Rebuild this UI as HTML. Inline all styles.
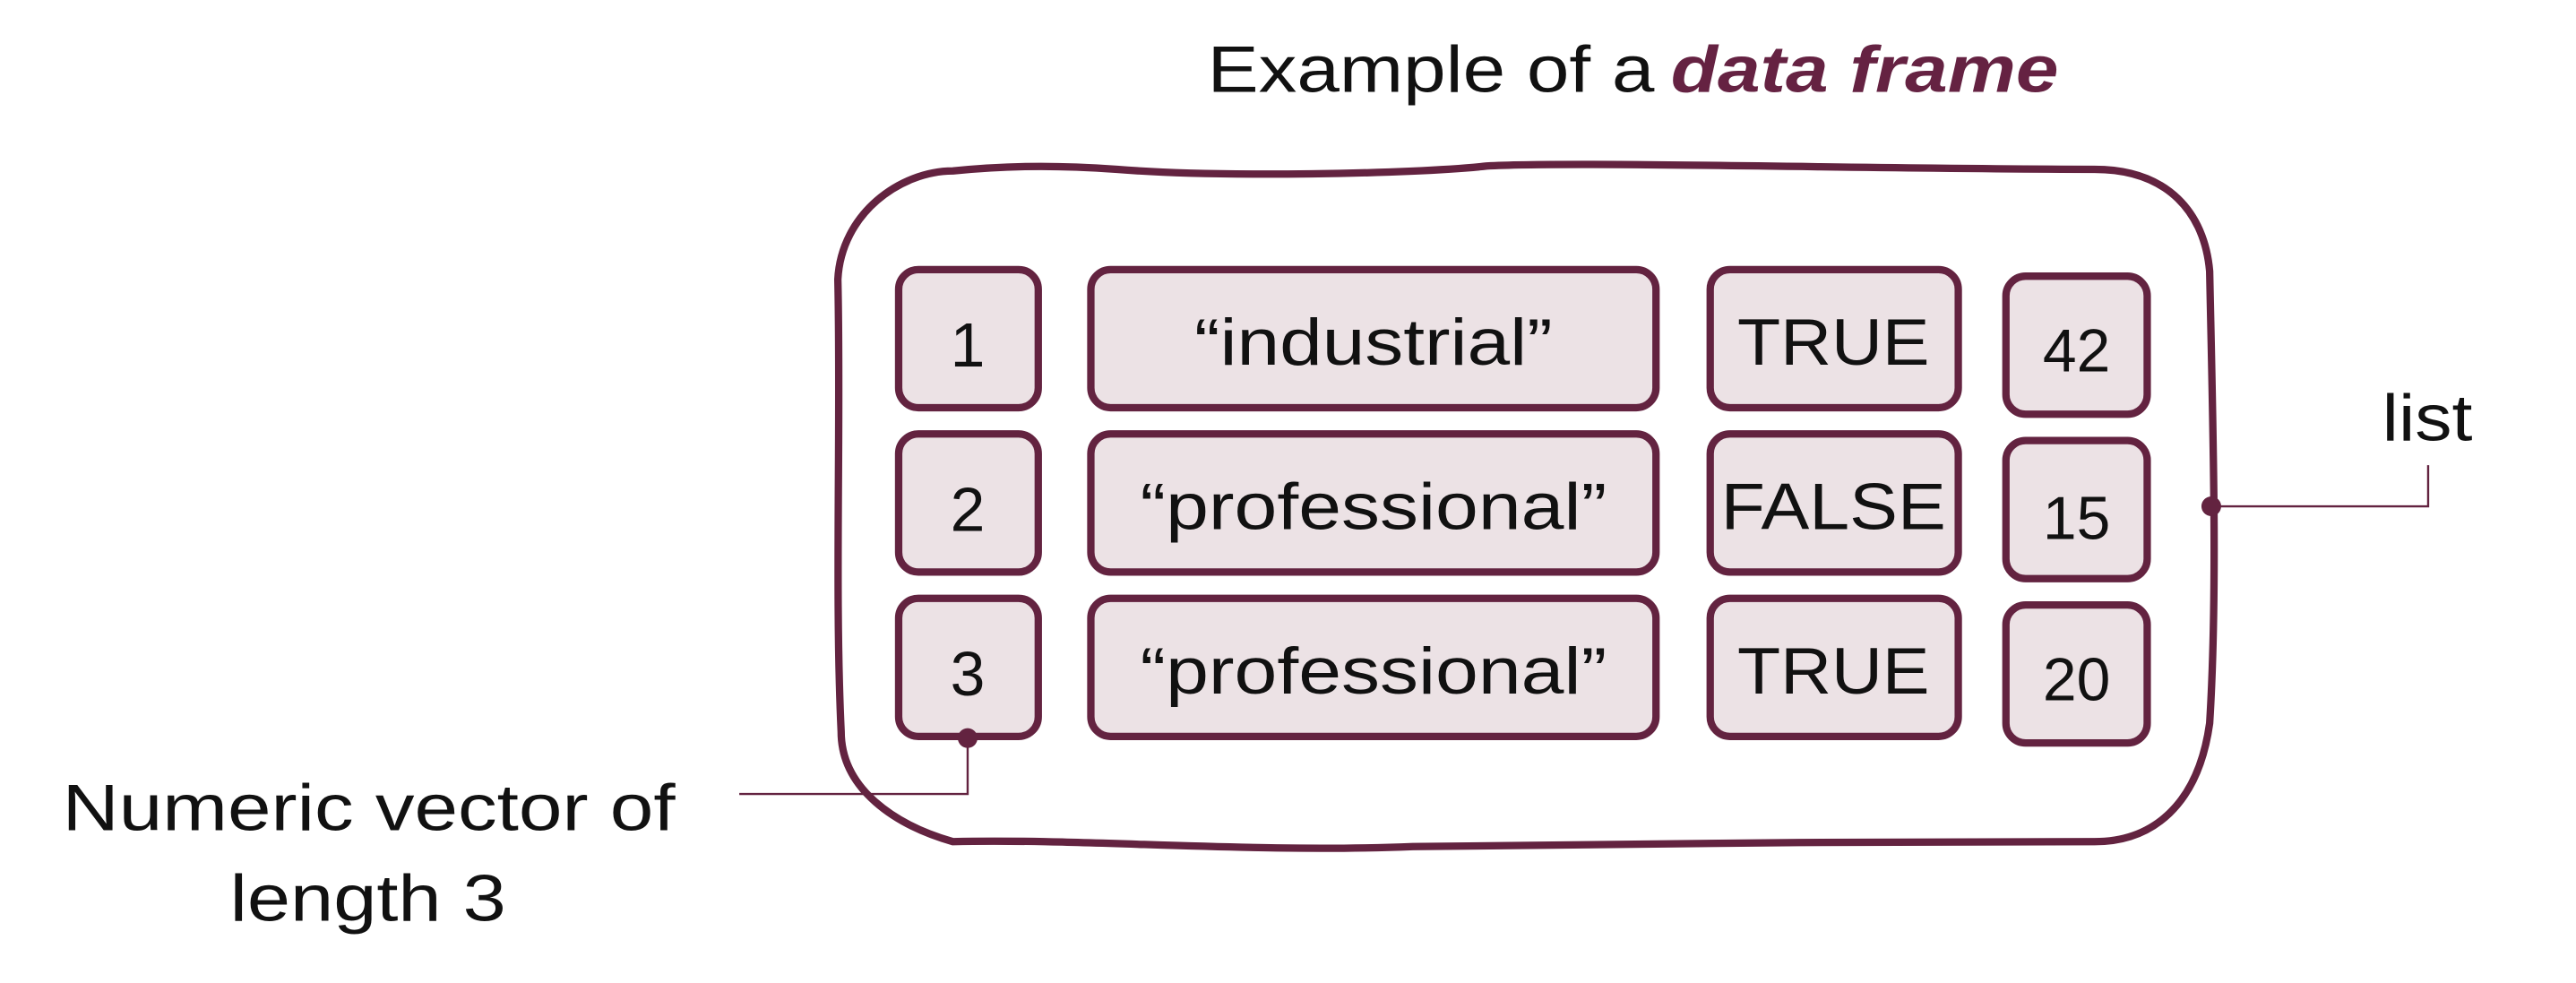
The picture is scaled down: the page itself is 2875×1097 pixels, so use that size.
<!DOCTYPE html>
<html><head><meta charset="utf-8"><style>
html,body{margin:0;padding:0;background:#fff;}
svg{display:block;}
text{font-family:"Liberation Sans",sans-serif;fill:#111;}
</style></head><body>
<svg width="2875" height="1097" viewBox="0 0 1568 598" preserveAspectRatio="none" xmlns="http://www.w3.org/2000/svg">
<text x="735" y="56" font-size="40" textLength="272" lengthAdjust="spacingAndGlyphs">Example of a</text>
<text x="1017" y="56" font-size="40" font-weight="bold" font-style="italic" style="fill:#652242" textLength="236" lengthAdjust="spacingAndGlyphs">data frame</text>

<path d="M580,104 C620,100 650,101 680,103 C740,108 860,106 905,101 C960,98 1150,103 1275,103 C1320,103 1342,130 1345,165 C1347,260 1350,360 1345,440 C1338,490 1310,512 1275,512 C1150,512 960,513 860,515 C760,519 660,510 580,512 C545,502 512,480 512,445 C508,360 512,260 510,170 C512,130 548,104 580,104 Z" fill="none" stroke="#632340" stroke-width="4.5"/>

<g fill="#ECE2E5" stroke="#632340" stroke-width="4.5">
<rect x="547" y="164" width="85" height="84" rx="12"/>
<rect x="547" y="264" width="85" height="84" rx="12"/>
<rect x="547" y="364" width="85" height="84" rx="12"/>
<rect x="664" y="164" width="344" height="84" rx="12"/>
<rect x="664" y="264" width="344" height="84" rx="12"/>
<rect x="664" y="364" width="344" height="84" rx="12"/>
<rect x="1041" y="164" width="151" height="84" rx="12"/>
<rect x="1041" y="264" width="151" height="84" rx="12"/>
<rect x="1041" y="364" width="151" height="84" rx="12"/>
<rect x="1221" y="168" width="86" height="84" rx="12"/>
<rect x="1221" y="268" width="86" height="84" rx="12"/>
<rect x="1221" y="368" width="86" height="84" rx="12"/>
</g>

<g font-size="40" text-anchor="middle">
<text x="589" y="223" font-size="38">1</text>
<text x="589" y="323" font-size="38">2</text>
<text x="589" y="423" font-size="38">3</text>
<text x="836" y="222" textLength="218" lengthAdjust="spacingAndGlyphs">“industrial”</text>
<text x="836" y="322" textLength="284" lengthAdjust="spacingAndGlyphs">“professional”</text>
<text x="836" y="422" textLength="284" lengthAdjust="spacingAndGlyphs">“professional”</text>
<text x="1116" y="222" textLength="117" lengthAdjust="spacingAndGlyphs">TRUE</text>
<text x="1116" y="322" textLength="137" lengthAdjust="spacingAndGlyphs">FALSE</text>
<text x="1116" y="422" textLength="117" lengthAdjust="spacingAndGlyphs">TRUE</text>
<text x="1264" y="226" font-size="37">42</text>
<text x="1264" y="328" font-size="37">15</text>
<text x="1264" y="426" font-size="37">20</text>
</g>

<g stroke="#632340" stroke-width="1.3" fill="none">
<polyline points="1346,308 1478,308 1478,283"/>
<polyline points="450,483 589,483 589,449"/>
</g>
<circle cx="1346" cy="308" r="6" fill="#632340"/>
<circle cx="589" cy="449" r="6" fill="#632340"/>

<text x="1450" y="268" font-size="40" textLength="55" lengthAdjust="spacingAndGlyphs">list</text>
<text x="38" y="505" font-size="40" textLength="373" lengthAdjust="spacingAndGlyphs">Numeric vector of</text>
<text x="140" y="560" font-size="40" textLength="168" lengthAdjust="spacingAndGlyphs">length 3</text>
</svg>
</body></html>
